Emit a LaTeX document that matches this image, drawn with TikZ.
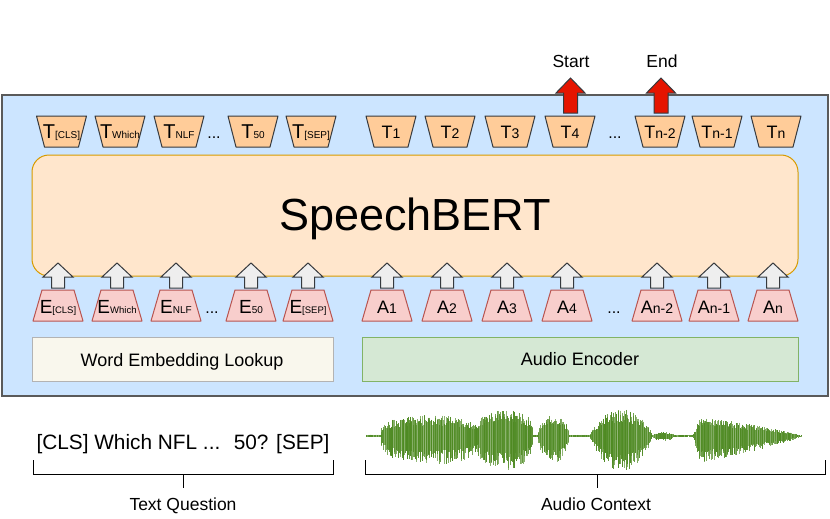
\documentclass[tikz,border=0pt]{standalone}
\usepackage{fontspec}
\setmainfont{Liberation Sans}
\definecolor{bgblue}{HTML}{CCE5FF}
\definecolor{frame}{HTML}{5A5A5A}
\definecolor{dark}{HTML}{36393D}
\definecolor{bertfill}{HTML}{FFE6CC}
\definecolor{bertline}{HTML}{D79B00}
\definecolor{tfill}{HTML}{FFCC99}
\definecolor{efill}{HTML}{F8CECC}
\definecolor{eline}{HTML}{B85450}
\definecolor{wfill}{HTML}{F9F7ED}
\definecolor{wline}{HTML}{B3B3B3}
\definecolor{afill}{HTML}{D5E8D4}
\definecolor{aline}{HTML}{82B366}
\definecolor{garrow}{HTML}{EEEEEE}
\definecolor{rarrow}{HTML}{E51400}
\definecolor{wavegreen}{HTML}{4E8A22}
\newcommand\fsz[2]{{\fontsize{#1}{#1}\selectfont #2}}
\newcommand\Ttrap[3]{%
  \draw[tstyle] (#2-25,116) -- (#2+25,116) -- (#2+17,147) -- (#2-17,147) -- cycle;
  \node[lbl] (#1) at (#2,138) {#3};}
\newcommand\Etrap[3]{%
  \draw[estyle] (#2-16,290) -- (#2+16,290) -- (#2+25,321) -- (#2-25,321) -- cycle;
  \node[lbl] (#1) at (#2,313) {#3};}
\newcommand\garr[1]{%
  \draw[gastyle] (#1,263) -- (#1+15,277) -- (#1+6.5,277) -- (#1+6.5,288) -- (#1-6.5,288) -- (#1-6.5,277) -- (#1-15,277) -- cycle;}
\newcommand\rarr[1]{%
  \draw[rastyle] (#1,78) -- (#1+14.5,93) -- (#1+7,93) -- (#1+7,113) -- (#1-7,113) -- (#1-7,93) -- (#1-14.5,93) -- cycle;}
\newcommand\wseg[5]{%
  \pgfmathsetmacro\wstp{#1+0.65}%
  \foreach \xx in {#1,\wstp,...,#2}{%
    \pgfmathsetmacro\wT{(\xx-#1)/(#2-#1)}%
    \pgfmathsetmacro\wE{pow(max(sin(180*\wT),0.02),#5)}%
    \pgfmathsetmacro\wU{#3*\wE*(0.5+0.5*rnd)}%
    \pgfmathsetmacro\wD{#4*\wE*(0.5+0.5*rnd)}%
    \pgfmathsetmacro\wO{0.6+0.4*rnd}%
    \draw[wave,draw opacity=\wO] (\xx,436-\wU) -- (\xx,436+\wD);}}
\newcommand\wtaper[4]{%
  \pgfmathsetmacro\wstp{#1+0.65}%
  \foreach \xx in {#1,\wstp,...,#2}{%
    \pgfmathsetmacro\wT{(\xx-#1)/(#2-#1)}%
    \pgfmathsetmacro\wE{pow(max(1-\wT,0.01),0.8)*min(1,\wT*15)}%
    \pgfmathsetmacro\wU{#3*\wE*(0.5+0.5*rnd)}%
    \pgfmathsetmacro\wD{#4*\wE*(0.5+0.5*rnd)}%
    \pgfmathsetmacro\wO{0.6+0.4*rnd}%
    \draw[wave,draw opacity=\wO] (\xx,436-\wU) -- (\xx,436+\wD);}}
\begin{document}
\begin{tikzpicture}[x=1pt,y=-1pt,
  tstyle/.style={draw=dark,fill=tfill,line width=1pt,line join=round},
  estyle/.style={draw=eline,fill=efill,line width=1pt,line join=round},
  gastyle/.style={draw=dark,fill=garrow,line width=1pt,line join=miter},
  rastyle/.style={draw=dark,fill=rarrow,line width=1pt,line join=miter},
  lbl/.style={anchor=base,inner sep=0pt,text=black},
  dots/.style={anchor=base,inner sep=0pt,font=\fontsize{16}{16}\selectfont},
  wave/.style={draw=wavegreen,line width=0.6pt},
  brk/.style={draw=black,line width=1pt},
  txt/.style={anchor=base,inner sep=0pt}]
\useasboundingbox (0,0) rectangle (830,519);
\fill[white] (0,0) rectangle (830,519);
% main frame
\draw[draw=frame,fill=bgblue,line width=1.2pt] (2,95) rectangle (828,396);
% SpeechBERT block
\draw[draw=bertline,fill=bertfill,line width=1pt,rounded corners=17pt] (32,155) rectangle (798,276);
\node[txt] (bert) at (415,230) {\fsz{45}{SpeechBERT}};
% input boxes
\draw[draw=wline,fill=wfill,line width=1pt] (32,337) rectangle (333,381);
\node[txt] (wel) at (182,366) {\fsz{18}{Word Embedding Lookup}};
\draw[draw=aline,fill=afill,line width=1pt] (362,337) rectangle (798,381);
\node[txt] (ae) at (580,365) {\fsz{18}{Audio Encoder}};
% gray up arrows
\foreach \gx in {58,117,176,251,308,387,447,507,567,657,714,773} {\garr{\gx}}
% E / A trapezoids
\Etrap{ecls}{58}{\fsz{19}{E}\fsz{9.5}{[CLS]}}
\Etrap{ewhich}{117}{\fsz{19}{E}\fsz{9.5}{Which}}
\Etrap{enlf}{176}{\fsz{19}{E}\fsz{10}{NLF}}
\node[dots] (edots1) at (212,313) {...};
\Etrap{efifty}{251}{\fsz{19}{E}\fsz{10}{50}}
\Etrap{esep}{308}{\fsz{19}{E}\fsz{9.5}{[SEP]}}
\Etrap{aone}{387}{\fsz{18}{A}\fsz{14}{1}}
\Etrap{atwo}{447}{\fsz{18}{A}\fsz{14}{2}}
\Etrap{athree}{507}{\fsz{18}{A}\fsz{14}{3}}
\Etrap{afour}{567}{\fsz{18}{A}\fsz{14}{4}}
\node[dots] (edots2) at (614,313) {...};
\Etrap{anm2}{657}{\fsz{18}{A}\fsz{14}{n-2}}
\Etrap{anm1}{714}{\fsz{18}{A}\fsz{14}{n-1}}
\Etrap{an}{773}{\fsz{18}{A}\fsz{14}{n}}
% T trapezoids
\Ttrap{tcls}{61.5}{\fsz{20}{T}\fsz{10}{[CLS]}}
\Ttrap{twhich}{120}{\fsz{20}{T}\fsz{10}{Which}}
\Ttrap{tnlf}{179}{\fsz{20}{T}\fsz{10}{NLF}}
\node[dots] (tdots1) at (214,138) {...};
\Ttrap{tfifty}{253}{\fsz{20}{T}\fsz{10}{50}}
\Ttrap{tsep}{311}{\fsz{20}{T}\fsz{10}{[SEP]}}
\Ttrap{tone}{391}{\fsz{18}{T}\fsz{14}{1}}
\Ttrap{ttwo}{450}{\fsz{18}{T}\fsz{14}{2}}
\Ttrap{tthree}{510}{\fsz{18}{T}\fsz{14}{3}}
\Ttrap{tfour}{570}{\fsz{18}{T}\fsz{14}{4}}
\node[dots] (tdots2) at (615,138) {...};
\Ttrap{tnm2}{660}{\fsz{18}{T}\fsz{14}{n-2}}
\Ttrap{tnm1}{717}{\fsz{18}{T}\fsz{14}{n-1}}
\Ttrap{tn}{776}{\fsz{18}{T}\fsz{14}{n}}
% red output arrows
\rarr{570.5}
\rarr{661}
\node[txt] (start) at (571,68) {\fsz{17.5}{Start}};
\node[txt] (end) at (662,68) {\fsz{17.5}{End}};
% text question
\node[txt] (question) at (183,449) {\fsz{20.8}{[CLS] Which NFL ... \ 50? [SEP]}};
\coordinate (qa) at (33,460); \coordinate (qb) at (33,474);
\coordinate (qc) at (333,474); \coordinate (qd) at (333,460);
\coordinate (qm) at (183,474); \coordinate (qt) at (183,488);
\draw[brk] (qa) -- (qb) -- (qc) -- (qd);
\draw[brk] (qm) -- (qt);
\node[txt] (tq) at (183,510) {\fsz{17.5}{Text Question}};
% audio waveform
\pgfmathsetseed{11}
\wseg{366}{382}{1.5}{1.5}{0.1}
\wseg{381}{479}{21}{29}{0.25}
\wseg{476}{533}{26}{34}{0.25}
\wseg{533}{538}{1.5}{1.5}{0.1}
\wseg{538}{569}{22}{27}{0.45}
\wseg{569}{590}{1.2}{1.2}{0.1}
\wseg{590}{652}{27}{35}{0.7}
\wseg{652}{674}{4}{5}{0.4}
\wseg{674}{693}{1}{1}{0.1}
\wtaper{693}{802}{21}{29}
\coordinate (aa) at (365,460); \coordinate (ab) at (365,474);
\coordinate (ac) at (825,474); \coordinate (ad) at (825,460);
\coordinate (am) at (597,474); \coordinate (at) at (597,488);
\draw[brk] (aa) -- (ab) -- (ac) -- (ad);
\draw[brk] (am) -- (at);
\node[txt] (ac2) at (596,510) {\fsz{17.5}{Audio Context}};
\end{tikzpicture}
\end{document}
